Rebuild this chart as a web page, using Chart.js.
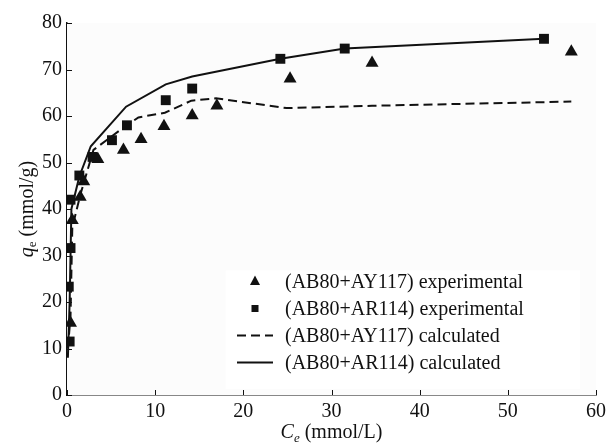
<!DOCTYPE html>
<html>
<head>
<meta charset="utf-8">
<script src="https://cdn.jsdelivr.net/npm/chart.js@4"></script>
<style>
  html, body { margin: 0; padding: 0; background: #fff; }
  #wrap { width: 611px; height: 445px; }
</style>
</head>
<body>
<div id="wrap"><canvas id="isoChart" width="611" height="445"></canvas></div>
<script>
// Experimental points
const ay117ExpX = [0.4, 0.6, 1.5, 1.9, 3.5, 6.4, 8.4, 11.0, 14.2, 17.0, 25.3, 34.6, 57.2];
const ay117ExpY = [15.5, 37.6, 42.6, 45.9, 50.7, 52.7, 55.0, 57.8, 60.1, 62.2, 68.0, 71.4, 73.8];
const ar114ExpX = [0.3, 0.2, 0.4, 0.4, 1.4, 2.9, 5.1, 6.8, 11.2, 14.2, 24.2, 31.5, 54.1];
const ar114ExpY = [11.5, 23.3, 31.6, 42.0, 47.2, 51.2, 54.8, 58.0, 63.4, 65.9, 72.3, 74.5, 76.6];

// Calculated curves
const ay117CalcX = [0.1, 0.4, 0.6, 1.5, 3.0, 6.4, 8.1, 11.1, 14.1, 16.9, 24.9, 34.6, 57.2];
const ay117CalcY = [10, 17, 36, 43, 52.7, 57.5, 59.7, 60.7, 63.3, 63.8, 61.7, 62.2, 63.1];
const ar114CalcX = [0.1, 0.3, 0.5, 1.4, 2.7, 6.7, 11.2, 14.2, 24.2, 31.5, 54.1];
const ar114CalcY = [8, 20, 40, 47, 53.5, 62, 66.8, 68.5, 72.3, 74.5, 76.6];

const xTicks = [0, 10, 20, 30, 40, 50, 60];
const yTicks = [0, 10, 20, 30, 40, 50, 60, 70, 80];

const seriesLabels = [
  "(AB80+AY117) experimental",
  "(AB80+AR114) experimental",
  "(AB80+AY117) calculated",
  "(AB80+AR114) calculated",
];

const toPts = (xs, ys) => xs.map((x, i) => ({ x: x, y: ys[i] }));
const FONT = "'Liberation Serif', 'Times New Roman', serif";
const INK = "#111";

// plot background, inward ticks, legend box and axis titles
const decor = {
  id: "decor",
  beforeDatasetsDraw(chart) {
    const { ctx, chartArea: a } = chart;
    ctx.save();
    ctx.fillStyle = "#fcfcfc";
    ctx.fillRect(a.left, a.top, a.right - a.left, a.bottom - a.top);
    // legend backdrop
    ctx.fillStyle = "#ffffff";
    const lx = a.left + (a.right - a.left) * 0.3;
    const ly = a.top + (a.bottom - a.top) * 0.665;
    ctx.fillRect(lx, ly, a.right - 16 - lx, a.bottom - 6 - ly);
    ctx.restore();
  },
  afterDraw(chart) {
    const { ctx, chartArea: a, scales } = chart;
    ctx.save();
    ctx.strokeStyle = INK;
    ctx.lineWidth = 1;
    xTicks.forEach((v) => {
      const px = Math.round(scales.x.getPixelForValue(v)) + 0.5;
      ctx.beginPath();
      ctx.moveTo(px, a.bottom);
      ctx.lineTo(px, a.bottom - 5);
      ctx.stroke();
    });
    yTicks.forEach((v) => {
      const py = Math.round(scales.y.getPixelForValue(v)) + 0.5;
      ctx.beginPath();
      ctx.moveTo(a.left, py);
      ctx.lineTo(a.left + 5, py);
      ctx.stroke();
    });

    // legend
    const ds = chart.data.datasets;
    const mx = a.left + 188;
    const textX = a.left + 218;
    const rowY0 = a.top + 258.5;
    ctx.font = "20px " + FONT;
    ctx.textBaseline = "middle";
    ctx.fillStyle = INK;
    ds.forEach((d, i) => {
      const y = rowY0 + i * 27;
      if (d.showLine) {
        ctx.setLineDash(d.borderDash || []);
        ctx.lineWidth = 2;
        ctx.beginPath();
        ctx.moveTo(mx - 18, y);
        ctx.lineTo(mx + 18, y);
        ctx.stroke();
        ctx.setLineDash([]);
      } else if (d.pointStyle === "triangle") {
        ctx.beginPath();
        ctx.moveTo(mx, y - 6);
        ctx.lineTo(mx + 5, y + 3.5);
        ctx.lineTo(mx - 5, y + 3.5);
        ctx.closePath();
        ctx.fill();
      } else {
        ctx.fillRect(mx - 3.5, y - 3.5, 7, 7);
      }
      ctx.fillText(d.label, textX, y + 1);
    });

    // x title: C_e (mmol/L)
    const cx = (a.left + a.right) / 2;
    const ty = 432;
    ctx.textBaseline = "alphabetic";
    const partC = "C";
    const partE = "e";
    const rest = " (mmol/L)";
    ctx.font = "italic 20px " + FONT;
    const wC = ctx.measureText(partC).width;
    ctx.font = "italic 13px " + FONT;
    const wE = ctx.measureText(partE).width;
    ctx.font = "20px " + FONT;
    const wR = ctx.measureText(rest).width;
    let x0 = cx - (wC + wE + wR) / 2;
    ctx.font = "italic 20px " + FONT;
    ctx.fillText(partC, x0, ty + 6);
    ctx.font = "italic 13px " + FONT;
    ctx.fillText(partE, x0 + wC, ty + 10);
    ctx.font = "20px " + FONT;
    ctx.fillText(rest, x0 + wC + wE, ty + 6);

    // y title: q_e (mmol/g)
    ctx.translate(27, (a.top + a.bottom) / 2);
    ctx.rotate(-Math.PI / 2);
    ctx.font = "italic 20px " + FONT;
    const wq = ctx.measureText("q").width;
    ctx.font = "13px " + FONT;
    const we = ctx.measureText("e").width;
    ctx.font = "20px " + FONT;
    const wr = ctx.measureText(" (mmol/g)").width;
    x0 = -(wq + we + wr) / 2;
    ctx.font = "italic 20px " + FONT;
    ctx.fillText("q", x0, 6);
    ctx.font = "13px " + FONT;
    ctx.fillText("e", x0 + wq, 9);
    ctx.font = "20px " + FONT;
    ctx.fillText(" (mmol/g)", x0 + wq + we, 6);
    ctx.restore();
  },
};

new Chart(document.getElementById("isoChart"), {
  type: "scatter",
  data: {
    datasets: [
      {
        label: seriesLabels[0],
        data: toPts(ay117ExpX, ay117ExpY),
        pointStyle: "triangle",
        pointRadius: 7.5,
        backgroundColor: INK,
        borderColor: INK,
        borderWidth: 0,
        showLine: false,
        order: 1,
      },
      {
        label: seriesLabels[1],
        data: toPts(ar114ExpX, ar114ExpY),
        pointStyle: "rect",
        pointRadius: 7,
        backgroundColor: INK,
        borderColor: INK,
        borderWidth: 0,
        showLine: false,
        order: 2,
      },
      {
        label: seriesLabels[2],
        data: toPts(ay117CalcX, ay117CalcY),
        showLine: true,
        borderColor: INK,
        borderWidth: 2,
        borderDash: [9, 5],
        pointRadius: 0,
        order: 3,
      },
      {
        label: seriesLabels[3],
        data: toPts(ar114CalcX, ar114CalcY),
        showLine: true,
        borderColor: INK,
        borderWidth: 2,
        pointRadius: 0,
        order: 4,
      },
    ],
  },
  options: {
    responsive: false,
    animation: false,
    layout: { padding: { left: 0, top: 23, right: 13, bottom: 0 } },
    plugins: {
      legend: { display: false },
      tooltip: { enabled: false },
    },
    scales: {
      x: {
        type: "linear",
        min: 0,
        max: 60,
        afterBuildTicks: (s) => { s.ticks = xTicks.map((v) => ({ value: v })); },
        afterFit: (s) => { s.height = 50; },
        grid: { display: false, drawTicks: false },
        border: { display: true, color: INK, width: 1.5 },
        ticks: { color: INK, font: { family: FONT, size: 20 }, padding: 5, maxRotation: 0 },
      },
      y: {
        type: "linear",
        min: 0,
        max: 80,
        afterBuildTicks: (s) => { s.ticks = yTicks.map((v) => ({ value: v })); },
        afterFit: (s) => { s.width = 67; },
        grid: { display: false, drawTicks: false },
        border: { display: true, color: INK, width: 1.5 },
        ticks: { color: INK, font: { family: FONT, size: 20 }, padding: 5 },
      },
    },
  },
  plugins: [decor],
});
</script>
</body>
</html>
